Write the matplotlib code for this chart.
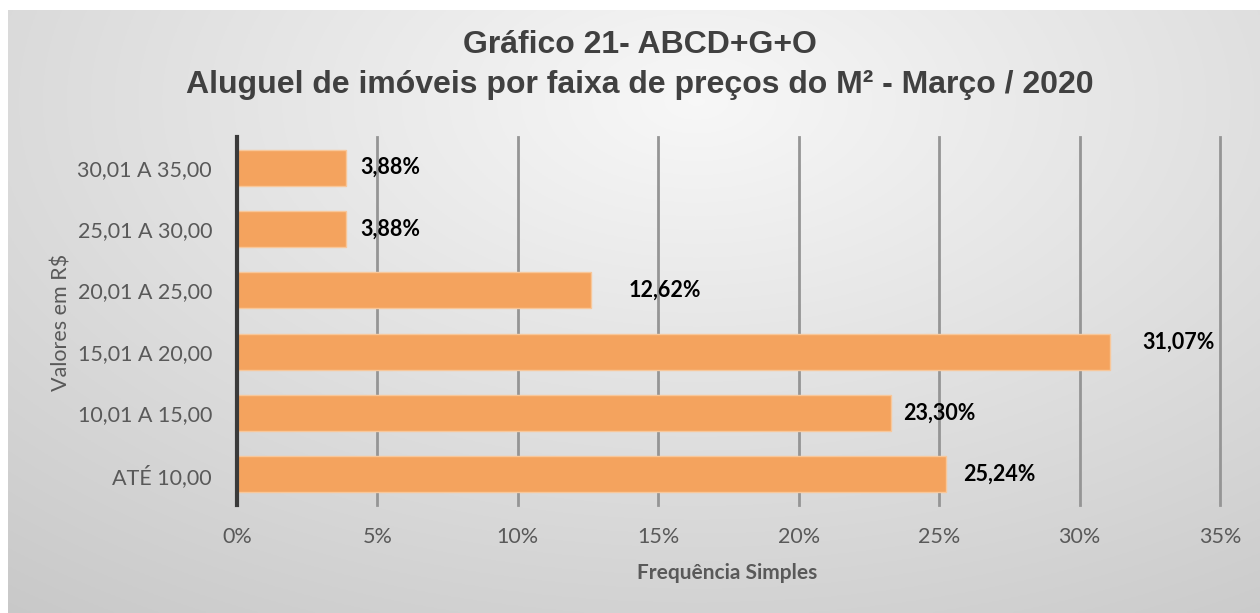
import numpy as np
import matplotlib
matplotlib.use("Agg")
import matplotlib.pyplot as plt
from matplotlib.ticker import FuncFormatter, MultipleLocator

categories = ["ATÉ 10,00", "10,01 A 15,00", "15,01 A 20,00", "20,01 A 25,00", "25,01 A 30,00", "30,01 A 35,00"]
values = [25.24, 23.30, 31.07, 12.62, 3.88, 3.88]
value_labels = ["25,24%", "23,30%", "31,07%", "12,62%", "3,88%", "3,88%"]
# label offsets in pixels (dx, dy) from bar end
label_dx = [17, 12, 33, 37, 14, 14]
label_dy = [0, 0, 9, 0, 0, 0]

W, H = 1260, 613
fig = plt.figure(figsize=(W/100, H/100), dpi=100)
fig.patch.set_facecolor("white")

# background gradient panel
bg = fig.add_axes([8/W, 0, (W-8)/W, (H-10)/H], zorder=-10)
yy, xx = np.mgrid[0:1:300j, 0:1:600j]
d = np.sqrt(((xx-0.55)/0.75)**2 + ((yy-0.85)/0.9)**2)
g = 0.97 - 0.20*np.clip(d, 0, 1.3)/1.3
img = np.dstack([g, g, g])
bg.imshow(img, aspect="auto", origin="lower", extent=[0, 1, 0, 1])
bg.axis("off")

ax = fig.add_axes([237/W, 108/H, (1220-237)/W, (505-137)/H])
ax.set_facecolor("none")
y = np.arange(len(categories))
ax.barh(y, values, height=0.59, color="#F4A35E", edgecolor="#F8C79A", linewidth=1, zorder=3)
ax.set_xlim(0, 35)
ax.set_ylim(-0.5, len(categories)-0.5)
ax.xaxis.set_major_locator(MultipleLocator(5))
ax.xaxis.set_major_formatter(FuncFormatter(lambda v, p: f"{v:.0f}%"))
ax.grid(axis="x", color="#959595", linewidth=2, zorder=0)
for gl in ax.get_xgridlines():
    gl.set_clip_on(False)
ax.set_axisbelow(True)
for s in ["top", "right", "bottom"]:
    ax.spines[s].set_visible(False)
ax.spines["left"].set_color("#3a3a3a")
ax.spines["left"].set_linewidth(3)
ax.spines["left"].set_zorder(4)
ax.set_yticks(y)
ax.set_yticklabels(categories)
ax.tick_params(axis="both", length=0, labelsize=15.5, labelcolor="#595959")
ax.tick_params(axis="y", pad=18)
ax.tick_params(axis="x", pad=16)
for lab in ax.get_xticklabels() + ax.get_yticklabels():
    lab.set_family("Lato")

for i, (v, t) in enumerate(zip(values, value_labels)):
    ax.annotate(t, xy=(v, i), xytext=(label_dx[i]*0.72, label_dy[i]*0.72), textcoords="offset points",
                ha="left", va="center", fontsize=15.5, fontweight="bold", color="black", family="Lato")

fig.text(727/W, 1-573/H, "Frequência Simples", ha="center", va="center", fontsize=15,
         fontweight="bold", color="#595959", family="Lato")
fig.text(62/W, 1-322/H, "Valores em R$", ha="center", va="center", rotation=90, fontsize=15.5,
         color="#595959", family="Lato")

fig.text(640/W, 1-45/H, "Gráfico 21- ABCD+G+O", ha="center", va="center", fontsize=23,
         fontweight="bold", color="#404040", family="Liberation Sans")
fig.text(640/W, 1-85/H, "Aluguel de imóveis por faixa de preços do M² - Março / 2020", ha="center",
         va="center", fontsize=23, fontweight="bold", color="#404040", family="Liberation Sans")

fig.savefig("out.png", dpi=100)
